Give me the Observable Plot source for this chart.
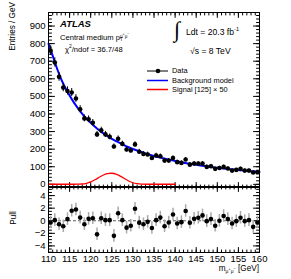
<!DOCTYPE html>
<html><head><meta charset="utf-8">
<script src="https://cdn.jsdelivr.net/npm/d3@7"></script>
<script src="https://cdn.jsdelivr.net/npm/@observablehq/plot@0.6"></script>
<style>
body{margin:0;background:#fff;font-family:"Liberation Sans",Arial,sans-serif;}
#wrap{position:relative;width:291px;height:279px;overflow:hidden;background:#fff}
.abs{position:absolute;white-space:nowrap;line-height:1;color:#000}
.plot{position:absolute;left:0}
.ss{display:inline-block;vertical-align:middle;line-height:0.85;font-size:0.6em;position:relative;top:-0.1em}
</style></head><body><div id="wrap"></div>
<script>
// bin centres (GeV)
const mass = [110.5,111.5,112.5,113.5,114.5,115.5,116.5,117.5,118.5,119.5,
  120.5,121.5,122.5,123.5,124.5,125.5,126.5,127.5,128.5,129.5,
  130.5,131.5,132.5,133.5,134.5,135.5,136.5,137.5,138.5,139.5,
  140.5,141.5,142.5,143.5,144.5,145.5,146.5,147.5,148.5,149.5,
  150.5,151.5,152.5,153.5,154.5,155.5,156.5,157.5,158.5,159.5];
// entries per GeV
const entries = [760,693,611,550,531,522,488,427,375,370,
  350,284,307,284,270,215,259,230,198,192,
  227,185,173,170,150,164,160,135,135,150,
  126,122,141,112,118,118,118,99,103,88,
  93,99,90,78,82,88,78,78,67,69];
// pulls
const pulls = [-0.27,0.1,-0.55,-0.87,0.26,1.6,1.8,0.5,-0.55,0.3,
  0.4,-2.16,0.4,0.1,0.1,-2.4,1.2,0.1,-1.1,-0.8,
  1.9,-0.3,-0.55,-0.17,-1.15,0.1,0.5,-0.87,-0.27,1.0,
  -0.43,-0.22,1.55,-0.32,0.32,0.48,0.85,-0.06,0.26,-0.8,
  0.0,0.75,0.26,-0.43,-0.06,0.48,-0.06,0.1,-0.97,-0.27];
// background model
const bkgMass = [110,111,112,113,114,115,116,117,118,119,120,121,122,123,124,125,126,127,128,129,
  130,131,132,133,134,135,136,137,138,139,140,141,142,143,144,145,146,147,148,149,
  150,151,152,153,154,155,156,157,158,159,160];
const bkgValues = [800,730,660,598,548,505,466,432,401,374,350,328,308,290,274,259,246,234,222,211,
  201,192,184,176,168,161,155,149,143,138,133,128,123,119,115,111,107,104,101,97,
  94,91,89,86,84,81,79,77,75,73,71];
// signal [125] x 50
const sigMass = [110,112,114,116,117,118,119,120,121,122,123,124,125,126,127,128,129,130,131,132,134,136,138,140];
const sigValues = [0.5,0.5,0.5,0.5,1,2,6,14,26,40,53,61,63,58,47,33,19,9,4,1.5,0.5,0.5,0.5,0.5];

const xMajor = [110,115,120,125,130,135,140,145,150,155,160];
const xMinor = d3.range(110,161,1);
const yMajor = [0,100,200,300,400,500,600,700,800,900];
const yMinor = d3.range(0,977,20);
const pMajor = [-4,-2,0,2,4];
const pMinor = d3.range(-5,5.5,0.5);

const data = mass.map((m,i)=>({m, n: entries[i], p: pulls[i]}));
const bkg = bkgMass.map((m,i)=>({m, v: bkgValues[i]}));
const sig = sigMass.map((m,i)=>({m, v: sigValues[i]}));

const FONT = '"Liberation Sans", Arial, sans-serif';
const tickShape = {draw(ctx, l){ ctx.moveTo(0,0); ctx.lineTo(0,-l); }};
function yTicks(vals, len){
  return [
    Plot.vector(vals,{y:d=>d, frameAnchor:"left", length:len, rotate:90, anchor:"start", shape:tickShape, stroke:"black", strokeWidth:1}),
    Plot.vector(vals,{y:d=>d, frameAnchor:"right", length:len, rotate:-90, anchor:"start", shape:tickShape, stroke:"black", strokeWidth:1})
  ];
}
function xTicks(vals, len){
  return [
    Plot.vector(vals,{x:d=>d, frameAnchor:"bottom", length:len, rotate:0, anchor:"start", shape:tickShape, stroke:"black", strokeWidth:1}),
    Plot.vector(vals,{x:d=>d, frameAnchor:"top", length:len, rotate:180, anchor:"start", shape:tickShape, stroke:"black", strokeWidth:1})
  ];
}

const upper = Plot.plot({
  width:291, height:193, marginLeft:48, marginRight:32, marginTop:12, marginBottom:6,
  x:{domain:[110,160], axis:null},
  y:{domain:[-18,977]},
  style:{fontFamily:FONT, fontSize:"9.5px", color:"black", background:"transparent", overflow:"visible"},
  marks:[
    Plot.axisY({ticks:yMajor, tickSize:0, tickPadding:3, label:null, fontSize:9.5}),
    ...yTicks(yMajor,6), ...yTicks(yMinor,3),
    ...xTicks(xMajor,5), ...xTicks(xMinor,2.5),
    Plot.line(sig,{x:"m", y:"v", stroke:"#ff0000", strokeWidth:1.3, curve:"natural"}),
    Plot.line(bkg,{x:"m", y:"v", stroke:"#0000ff", strokeWidth:2, curve:"natural"}),
    Plot.ruleX(data,{x:"m", y1:d=>d.n-Math.sqrt(d.n), y2:d=>d.n+Math.sqrt(d.n), stroke:"black", strokeWidth:1}),
    Plot.dot(data,{x:"m", y:"n", r:2.3, fill:"black", stroke:"none"}),
    Plot.frame({stroke:"black"})
  ]
});

const lower = Plot.plot({
  width:291, height:93, marginLeft:48, marginRight:32, marginTop:0, marginBottom:27,
  x:{domain:[110,160]},
  y:{domain:[-5.05,5.45]},
  style:{fontFamily:FONT, fontSize:"9.5px", color:"black", background:"transparent", overflow:"visible"},
  marks:[
    Plot.axisY({ticks:pMajor, tickSize:0, tickPadding:3, label:null, fontSize:9.5}),
    Plot.axisX({ticks:xMajor, tickSize:0, tickPadding:3, label:null, fontSize:9.5}),
    ...yTicks(pMajor,6), ...yTicks(pMinor,3),
    ...xTicks(xMajor,5), ...xTicks(xMinor,2.5),
    Plot.ruleY([0],{stroke:"#333", strokeDasharray:"3,2", strokeWidth:0.8}),
    Plot.ruleX(data,{x:"m", y1:d=>d.p-1, y2:d=>d.p+1, stroke:"#aaa", strokeWidth:1.5}),
    Plot.dot(data,{x:"m", y:"p", r:2.3, fill:"black", stroke:"none"}),
    Plot.frame({stroke:"black"})
  ]
});

const wrap = document.getElementById("wrap");
upper.classList.add("plot"); upper.style.top="0px";
lower.classList.add("plot"); lower.style.top="186px";
wrap.appendChild(lower); wrap.appendChild(upper);

function addText(html, css){
  const d = document.createElement("div");
  d.className="abs"; d.innerHTML=html; d.style.cssText += css;
  wrap.appendChild(d); return d;
}
addText("ATLAS","left:60px;top:19px;font-weight:bold;font-style:italic;font-size:9.5px;");
addText('Central medium p<span class="ss">μ<sup style="font-size:0.8em">+</sup>μ<sup style="font-size:0.8em">−</sup><br>T</span>',"left:60px;top:33px;font-size:7.6px;");
addText("χ<sup style='font-size:0.65em'>2</sup>/ndof = 36.7/48","left:65px;top:45px;font-size:7.6px;");
addText("∫","left:174px;top:19px;font-size:22px;font-family:'DejaVu Sans';font-weight:200;");
addText("Ldt = 20.3 fb<sup style='font-size:0.65em'>-1</sup>","left:186px;top:27px;font-size:8.6px;");
addText("√s = 8 TeV","left:190px;top:47px;font-size:8.6px;");
// legend
const legendItems = [
  {label:"Data", color:"black", dot:true, y:71},
  {label:"Background model", color:"#0000ff", dot:false, y:80.5},
  {label:"Signal [125] × 50", color:"#ff0000", dot:false, y:89.5}
];
const ns="http://www.w3.org/2000/svg";
const lsvg=document.createElementNS(ns,"svg");
lsvg.setAttribute("width",291); lsvg.setAttribute("height",279);
lsvg.style.cssText="position:absolute;left:0;top:0;pointer-events:none";
legendItems.forEach(it=>{
  const l=document.createElementNS(ns,"line");
  l.setAttribute("x1",147); l.setAttribute("x2",168); l.setAttribute("y1",it.y); l.setAttribute("y2",it.y);
  l.setAttribute("stroke",it.color); l.setAttribute("stroke-width",it.dot?1:1.5);
  lsvg.appendChild(l);
  if(it.dot){const c=document.createElementNS(ns,"circle");c.setAttribute("cx",158);c.setAttribute("cy",it.y);c.setAttribute("r",2.3);lsvg.appendChild(c);}
  addText(it.label,`left:172px;top:${it.y-3.8}px;font-size:7.4px;`);
});
wrap.appendChild(lsvg);
// axis titles
addText("Entries / GeV","left:13px;top:2px;font-size:8.2px;transform-origin:0 0;transform:rotate(-90deg) translate(-100%,-50%);");
addText("Pull","left:14px;top:218px;font-size:8.2px;transform-origin:0 0;transform:rotate(-90deg) translate(-50%,-50%);");
addText('m<span class="ss" style="top:0.35em">μ<sup style="font-size:0.8em">+</sup>μ<sup style="font-size:0.8em">−</sup></span> [GeV]',"right:32px;top:265px;font-size:8.2px;");
</script></body></html>
